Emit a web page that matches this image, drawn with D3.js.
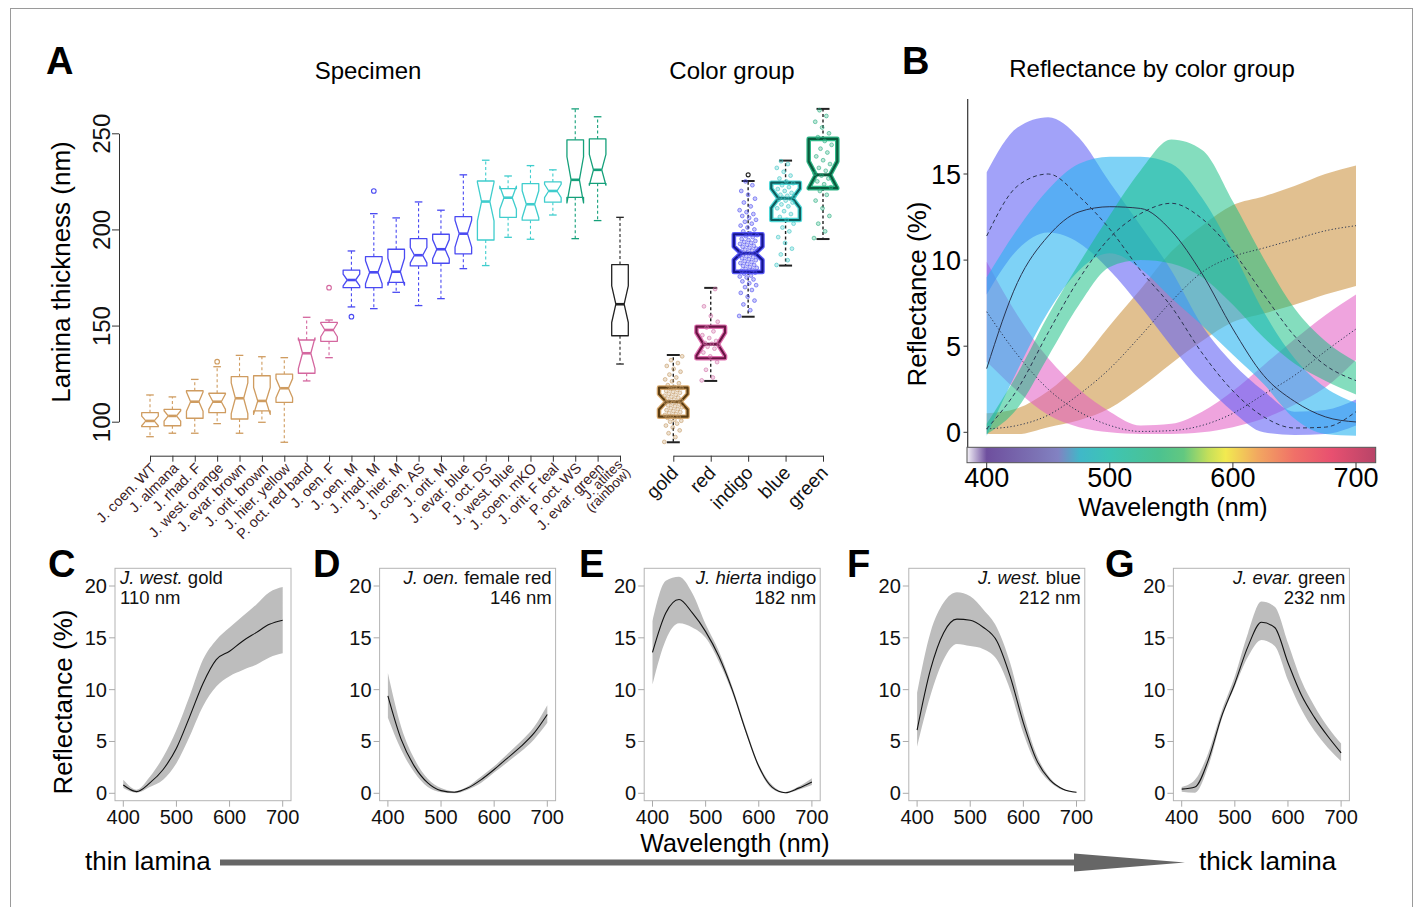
<!DOCTYPE html>
<html>
<head>
<meta charset="utf-8">
<title>Lamina thickness and reflectance</title>
<script src="https://d3js.org/d3.v7.min.js"></script>
<style>
  body { margin: 0; background: #fff; }
  svg { font-family: "Liberation Sans", Arial, Helvetica, sans-serif; }
</style>
</head>
<body>
<svg id="fig" width="1415" height="907"></svg>
<script>
// ---------- panel A data (lamina thickness, nm) ----------
var specimens = ["J. coen. WT", "J. almana", "J. rhad. F", "J. west. orange", "J. evar. brown",
  "J. orit. brown", "J. hier. yellow", "P. oct. red band", "J. oen. F", "J. oen. M", "J. rhad. M",
  "J. hier. M", "J. coen. AS", "J. orit. M", "J. evar. blue", "P. oct. DS", "J. west. blue",
  "J. coen. mKO", "J. orit. F teal", "P. oct. WS", "J. evar. green", "J. atlites|(rainbow)"];
var specGroup = ["gold","gold","gold","gold","gold","gold","gold","red","red",
  "indigo","indigo","indigo","indigo","indigo","indigo","blue","blue","blue","blue",
  "green","green","rainbow"];
var specHigh  = [113.9, 112.9, 122, 128.6, 134.5, 133.8, 133.3, 154.3, 152.9, 188.8, 208.2, 206, 214.3, 210, 228.4, 236, 227.8, 233.2, 231, 262.7, 258.6, 206.3];
var specQ3    = [104.7, 106.4, 116.1, 114.8, 123.4, 123.9, 124.7, 142.5, 151.7, 178.8, 185.9, 189.7, 195.2, 197.5, 206.7, 225.2, 221.2, 223.8, 224.7, 246.6, 247.1, 181.7];
var specMed   = [100.4, 103, 110.4, 110.4, 112.2, 110.8, 117.4, 135.6, 147.7, 173.7, 177.7, 178, 186.6, 189.7, 197.8, 214.5, 216.5, 213.1, 220, 225.8, 231, 161.1];
var specQ1    = [97.4, 97.9, 101.8, 104.7, 101.4, 105.6, 110.1, 125.2, 141.8, 169.7, 169.7, 172.5, 181, 182.4, 187.3, 194.5, 206.3, 204.8, 214.2, 216.7, 224, 144.7];
var specLow   = [92.2, 94, 94, 99, 94, 99.7, 89.3, 121.2, 133.3, 159.7, 158.8, 167.3, 160.4, 164, 179.6, 181.2, 195.9, 194.9, 207.5, 195.2, 204.6, 130];
var specNotch = [2.5, 2.7, 5, 4, 8, 7, 5, 8, 3.5, 3, 6, 7, 4, 5, 7, 10, 6, 7, 3.5, 12, 8, 9.5];
var specOutliers = [[3, 131.2], [8, 169.7], [9, 154.6], [10, 220]];

var groups     = ["gold", "red", "indigo", "blue", "green"];
var groupHigh  = [134.7, 169.6, 225.2, 235.8, 262.7];
var groupQ3    = [117.7, 149.4, 197.5, 224.3, 247.1];
var groupMed   = [110.4, 140.3, 187.6, 216.2, 228.4];
var groupQ1    = [102.6, 133, 177.9, 204.9, 221.5];
var groupLow   = [89.3, 121.2, 154.6, 181.2, 195];
var groupNotch = [4, 6, 3.5, 5, 7];
var groupOutliers = [[2, 228.4]];

var goldPts = [89.5, 92, 94, 95.5, 97, 98, 99, 100, 100.5, 101, 102, 102.5, 103, 103.5, 104, 104.5, 105, 105.5, 106, 106.5, 107, 107.5, 108, 108.5, 109, 109.5, 110, 110.2, 110.5, 111, 111.5, 112, 112.5, 113, 113.5, 114, 114.5, 115, 115.5, 116, 116.5, 117, 117.5, 118, 119, 120, 121, 122, 123, 124.5, 126, 127.5, 129, 130.5, 132, 134];
var redPts = [121.5, 123, 127, 131, 134, 136, 138, 139, 140, 140.5, 141, 142, 143.5, 145, 147, 149, 152, 155, 160, 169];
var indigoPts = [155, 158, 161, 163, 165, 167, 168.5, 170, 171, 172, 173, 174, 175, 175.5, 176, 177, 177.5, 178, 178.5, 179, 179.5, 180, 180.5, 181, 181.5, 182, 182.5, 183, 183.5, 184, 184.5, 185, 185.5, 186, 186.5, 187, 187.3, 187.6, 188, 188.5, 189, 189.5, 190, 190.5, 191, 191.5, 192, 192.5, 193, 193.5, 194, 194.5, 195, 196, 196.5, 197, 198, 199, 200, 201, 202, 203, 204, 205, 206, 207, 208, 209, 210, 212, 214, 216, 218, 220, 223, 225];
var bluePts = [181.5, 184, 187, 190, 193, 196, 199, 201, 203, 205, 206.5, 208, 209.5, 211, 212, 213, 214, 215, 215.5, 216, 216.5, 217, 217.5, 218, 219, 220, 221, 222, 223, 224, 225, 226.5, 228, 230, 232, 234, 235.5];
var greenPts = [195.5, 199, 203, 207, 211, 215, 218, 220, 222, 223.5, 225, 226.5, 228, 229, 230.5, 232, 234, 236, 238, 240, 242, 244, 246, 248, 250, 253, 256, 259, 262];

var thickTicks = [100, 150, 200, 250];

// ---------- panel B data (reflectance %, by wavelength) ----------
var wl = [400, 425, 450, 475, 500, 525, 550, 575, 600, 625, 650, 675, 700];
var goldHigh   = [1.1, 1.4, 2.4, 4.0, 6.2, 8.3, 10.5, 12.0, 13.2, 13.7, 14.3, 15.0, 15.5];
var goldMean   = [0.2, 0.4, 1.0, 2.2, 3.7, 5.6, 7.6, 9.3, 10.2, 10.7, 11.2, 11.7, 12.0];
var goldLow    = [-0.1, -0.1, 0.3, 0.7, 1.4, 2.6, 4.0, 5.3, 6.4, 6.9, 7.4, 8.0, 8.5];
var redHigh    = [9.9, 6.8, 4.3, 2.5, 1.2, 0.4, 0.5, 1.2, 2.4, 3.9, 5.4, 6.8, 8.0];
var redMean    = [7.0, 4.5, 2.5, 1.2, 0.4, 0.05, 0.1, 0.4, 1.1, 2.2, 3.3, 4.7, 6.0];
var redLow     = [4.1, 2.4, 1.0, 0.3, 0.0, -0.1, -0.1, 0.0, 0.3, 0.8, 1.6, 2.6, 4.2];
var indigoHigh = [15.1, 17.7, 18.3, 17.1, 14.5, 12.0, 9.4, 6.2, 4.0, 2.4, 1.2, 1.3, 1.9];
var indigoMean = [11.4, 14.3, 15.0, 13.7, 11.8, 9.4, 7.3, 4.6, 2.4, 0.9, 0.25, 0.3, 1.2];
var indigoLow  = [8.0, 10.6, 11.6, 11.0, 9.4, 7.3, 5.0, 2.9, 1.2, 0.0, -0.15, -0.1, 0.4];
var blueHigh   = [9.0, 11.8, 14.1, 15.6, 16.0, 16.0, 15.6, 13.6, 10.5, 7.0, 4.3, 2.6, 1.7];
var blueMean   = [3.7, 8.7, 11.4, 12.8, 13.1, 13.0, 11.7, 9.2, 6.0, 3.3, 1.8, 0.9, 0.6];
var blueLow    = [-0.2, 3.6, 7.0, 9.4, 10.4, 9.5, 7.8, 6.2, 4.5, 2.8, 0.8, -0.1, -0.2];
var greenHigh  = [0.5, 3.4, 6.8, 9.8, 12.6, 15.2, 17.0, 16.4, 13.4, 10.1, 7.2, 5.3, 4.1];
var greenMean  = [0.2, 2.5, 5.8, 8.9, 11.3, 12.7, 13.3, 12.4, 10.5, 8.0, 5.6, 3.9, 3.0];
var greenLow   = [-0.1, 1.4, 4.4, 7.4, 9.6, 10.0, 9.8, 9.0, 7.4, 5.5, 4.0, 3.0, 2.2];
var reflTicksB = [0, 5, 10, 15];
var wlTicks = [400, 500, 600, 700];
var spectrumStops = [[384, "#f3f1f7"], [400, "#6e4f9e"], [440, "#7c72b4"], [458, "#8282c2"], [476, "#40b8c8"],
  [500, "#3ec4b4"], [540, "#4cc290"], [560, "#62c880"], [580, "#c4df5a"], [594, "#f2ea50"],
  [620, "#f2a860"], [650, "#f07068"], [680, "#e85070"], [716, "#b84468"]];

// ---------- panels C-G data ----------
var cMean = [0.8, 0.16, 1.0, 2.3, 4.35, 7.4, 10.6, 12.9, 13.7, 14.7, 15.5, 16.3, 16.7];
var cHigh = [1.3, 0.35, 1.6, 3.5, 6.1, 9.4, 12.9, 14.8, 16.0, 17.1, 18.2, 19.4, 19.9];
var cLow  = [0.5, 0.05, 0.6, 1.3, 2.9, 5.5, 8.4, 10.3, 11.3, 11.9, 12.4, 13.1, 13.5];
var dMean = [9.4, 5.2, 2.6, 1.0, 0.26, 0.1, 0.5, 1.3, 2.3, 3.4, 4.5, 5.8, 7.6];
var dHigh = [11.6, 6.4, 3.3, 1.4, 0.5, 0.2, 0.65, 1.6, 2.6, 3.8, 5.0, 6.4, 8.5];
var dLow  = [7.3, 4.2, 2.0, 0.6, 0.1, 0.0, 0.35, 1.0, 2.0, 3.0, 4.0, 5.2, 6.8];
var eMean = [13.6, 17.4, 18.7, 17.4, 15.6, 13.2, 10.0, 6.1, 2.6, 0.6, 0.06, 0.5, 1.1];
var eHigh = [16.6, 20.5, 20.9, 19.3, 16.3, 13.7, 10.3, 6.4, 2.8, 0.8, 0.13, 0.65, 1.45];
var eLow  = [10.5, 14.8, 16.4, 16.0, 15.0, 12.7, 9.7, 5.9, 2.4, 0.45, 0.0, 0.35, 0.8];
var fMean = [6.1, 11.9, 15.5, 16.8, 16.7, 16.0, 14.7, 11.3, 6.8, 3.2, 1.3, 0.4, 0.1];
var fHigh = [9.7, 15.5, 18.4, 19.4, 19.0, 17.7, 16.0, 12.6, 7.7, 3.7, 1.5, 0.45, 0.1];
var fLow  = [4.5, 9.4, 12.9, 14.4, 14.2, 13.9, 12.9, 10.0, 5.8, 2.7, 1.1, 0.3, 0.06];
var gMean = [0.4, 0.6, 3.2, 7.4, 10.6, 14.2, 16.5, 16.0, 12.6, 9.5, 7.3, 5.5, 3.9];
var gHigh = [0.6, 1.3, 3.9, 7.9, 11.3, 15.5, 18.5, 18.0, 14.5, 10.9, 8.4, 6.4, 4.8];
var gLow  = [0.16, 0.06, 2.6, 7.1, 10.3, 13.2, 14.8, 14.2, 10.9, 8.1, 6.0, 4.4, 3.1];
var cgSpecies = ["J. west.", "J. oen.", "J. hierta", "J. west.", "J. evar."];
var cgColorName = ["gold", "female red", "indigo", "blue", "green"];
var cgThickness = [110, 146, 182, 212, 232];
var reflTicksCG = [0, 5, 10, 15, 20];

// ---------- styles ----------
var specColor = { gold: "#cf9c60", red: "#d4679f", indigo: "#4a4af2", blue: "#3fcdcd", green: "#15a07a", rainbow: "#222" };
var groupDark = { gold: "#5a3c12", red: "#6a1444", indigo: "#14148c", blue: "#0e5c5c", green: "#0a5a3c" };
var groupHalo = { gold: "#d8aa70", red: "#e070b0", indigo: "#5a5af8", blue: "#50d8d8", green: "#30b888" };
var ptColor = { gold: "#c49a66", red: "#d070a8", indigo: "#4d4df0", blue: "#3cc6c6", green: "#2aae80" };

var svg = d3.select("#fig");

svg.append("rect").attr("x", 10.5).attr("y", 8.5).attr("width", 1402).attr("height", 910)
  .attr("fill", "none").attr("stroke", "#9a9a9a");

function panelLetter(t, x, y) {
  svg.append("text").attr("x", x).attr("y", y).text(t)
    .attr("font-size", 38).attr("font-weight", "bold").attr("fill", "#000");
}

// ================= PANEL A =================
var yA = d3.scaleLinear().domain([100, 250]).range([421.7, 133.3]);
var xSpec = d3.scalePoint().domain(specimens).range([150, 620]);
var xGroup = d3.scalePoint().domain(groups).range([673.3, 823]);

panelLetter("A", 46, 74);
svg.append("text").attr("x", 368).attr("y", 79).attr("text-anchor", "middle")
  .attr("font-size", 24).text("Specimen");
svg.append("text").attr("x", 732).attr("y", 79).attr("text-anchor", "middle")
  .attr("font-size", 24).text("Color group");

var axA = svg.append("g").attr("transform", "translate(119,0)")
  .call(d3.axisLeft(yA).tickValues(thickTicks).tickSize(7).tickSizeOuter(0))
  .attr("font-size", 24).attr("font-family", null);
axA.select(".domain").attr("stroke", "#333");
axA.selectAll(".tick line").attr("stroke", "#333");
axA.selectAll(".tick text").attr("x", null).attr("dy", null)
  .attr("transform", "translate(-9,0) rotate(-90)").attr("text-anchor", "middle").attr("fill", "#111");

svg.append("text").attr("transform", "translate(70,272) rotate(-90)")
  .attr("text-anchor", "middle").attr("font-size", 26).text("Lamina thickness (nm)");

function boxPath(cx, hw, q1, q3, med, notch, y) {
  var a = y(q3), b = y(med + notch), m = y(med), c = y(med - notch), d = y(q1), iw = hw * 0.5;
  return "M" + (cx - hw) + "," + a + "L" + (cx - hw) + "," + b + "L" + (cx - iw) + "," + m +
    "L" + (cx - hw) + "," + c + "L" + (cx - hw) + "," + d + "L" + (cx + hw) + "," + d +
    "L" + (cx + hw) + "," + c + "L" + (cx + iw) + "," + m + "L" + (cx + hw) + "," + b +
    "L" + (cx + hw) + "," + a + "Z";
}

function whiskers(g, cx, capW, q1, q3, lo, hi, color, width, capWidth) {
  g.append("line").attr("x1", cx).attr("x2", cx).attr("y1", yA(q3)).attr("y2", yA(hi))
    .attr("stroke", color).attr("stroke-width", width).attr("stroke-dasharray", "3,2.5");
  g.append("line").attr("x1", cx).attr("x2", cx).attr("y1", yA(q1)).attr("y2", yA(lo))
    .attr("stroke", color).attr("stroke-width", width).attr("stroke-dasharray", "3,2.5");
  [hi, lo].forEach(function(v) {
    g.append("line").attr("x1", cx - capW).attr("x2", cx + capW).attr("y1", yA(v)).attr("y2", yA(v))
      .attr("stroke", color).attr("stroke-width", capWidth);
  });
}

// specimen boxes
var gSpec = svg.append("g");
specimens.forEach(function(s, i) {
  var cx = xSpec(s), col = specColor[specGroup[i]], hw = 8.3;
  whiskers(gSpec, cx, 3.8, specQ1[i], specQ3[i], specLow[i], specHigh[i], col, 1.1, 1.3);
  gSpec.append("path").attr("d", boxPath(cx, hw, specQ1[i], specQ3[i], specMed[i], specNotch[i], yA))
    .attr("fill", "#fff").attr("stroke", col).attr("stroke-width", 1.3).attr("stroke-linejoin", "round");
  gSpec.append("line").attr("x1", cx - hw * 0.5).attr("x2", cx + hw * 0.5)
    .attr("y1", yA(specMed[i])).attr("y2", yA(specMed[i])).attr("stroke", col).attr("stroke-width", 2.6);
});
specOutliers.forEach(function(o) {
  gSpec.append("circle").attr("cx", xSpec(specimens[o[0]])).attr("cy", yA(o[1])).attr("r", 2.3)
    .attr("fill", "none").attr("stroke", specColor[specGroup[o[0]]]).attr("stroke-width", 1.1);
});

var axS = svg.append("g").attr("transform", "translate(0,455.7)")
  .call(d3.axisBottom(xSpec).tickSize(6).tickSizeOuter(0).tickFormat(""));
axS.selectAll("path,line").attr("stroke", "#333");
specimens.forEach(function(s) {
  var parts = s.split("|");
  var t = svg.append("text").attr("transform", "translate(" + (xSpec(s) + 7) + ",469) rotate(-45)")
    .attr("text-anchor", "end").attr("font-size", parts.length > 1 ? 13.5 : 14.5).attr("fill", "#3a2024");
  if (parts.length > 1) {
    t.append("tspan").attr("x", 0).attr("dy", "-0.4em").text(parts[0]);
    t.append("tspan").attr("x", 0).attr("dy", "0.85em").text(parts[1]);
  } else {
    t.text(s);
  }
});

// color group boxes
var gGrp = svg.append("g");
var groupPts = { gold: goldPts, red: redPts, indigo: indigoPts, blue: bluePts, green: greenPts };
groups.forEach(function(gname, i) {
  var cx = xGroup(gname), hw = 14.3;
  whiskers(gGrp, cx, 6.5, groupQ1[i], groupQ3[i], groupLow[i], groupHigh[i], "#222", 1.4, 2);
  var d = boxPath(cx, hw, groupQ1[i], groupQ3[i], groupMed[i], groupNotch[i], yA);
  gGrp.append("path").attr("d", d).attr("fill", "none").attr("stroke", groupHalo[gname])
    .attr("stroke-width", 4.6).attr("stroke-linejoin", "round");
  gGrp.append("path").attr("d", d).attr("fill", "none").attr("stroke", groupDark[gname])
    .attr("stroke-width", 2.2).attr("stroke-linejoin", "round");
  gGrp.append("line").attr("x1", cx - hw * 0.5).attr("x2", cx + hw * 0.5)
    .attr("y1", yA(groupMed[i])).attr("y2", yA(groupMed[i]))
    .attr("stroke", groupDark[gname]).attr("stroke-width", 3);
  groupPts[gname].forEach(function(v, j) {
    var off = (((j * 0.618034) % 1) - 0.5) * 18;
    gGrp.append("circle").attr("cx", cx + off).attr("cy", yA(v)).attr("r", 1.9)
      .attr("fill", ptColor[gname]).attr("fill-opacity", 0.3)
      .attr("stroke", ptColor[gname]).attr("stroke-opacity", 0.85).attr("stroke-width", 0.7);
  });
});
groupOutliers.forEach(function(o) {
  gGrp.append("circle").attr("cx", xGroup(groups[o[0]])).attr("cy", yA(o[1])).attr("r", 2)
    .attr("fill", "none").attr("stroke", "#222").attr("stroke-width", 1.1);
});

var axG = svg.append("g").attr("transform", "translate(0,455.7)")
  .call(d3.axisBottom(xGroup).tickSize(6).tickSizeOuter(0).tickFormat(""));
axG.selectAll("path,line").attr("stroke", "#333");
groups.forEach(function(gname) {
  svg.append("text").attr("transform", "translate(" + (xGroup(gname) + 6) + ",474) rotate(-46)")
    .attr("text-anchor", "end").attr("font-size", 19).attr("fill", "#111").text(gname);
});

// ================= PANEL B =================
var xB = d3.scaleLinear().domain([400, 700]).range([986.7, 1356]);
var yB = d3.scaleLinear().domain([0, 15]).range([432.3, 174]);

panelLetter("B", 902, 74);
svg.append("text").attr("x", 1152).attr("y", 77).attr("text-anchor", "middle")
  .attr("font-size", 24).text("Reflectance by color group");

var bands = [
  { hi: goldHigh, mean: goldMean, lo: goldLow, fill: "rgba(205,150,70,0.6)", dash: "1.2,2.2" },
  { hi: redHigh, mean: redMean, lo: redLow, fill: "rgba(225,90,195,0.55)", dash: "1.2,2.2" },
  { hi: indigoHigh, mean: indigoMean, lo: indigoLow, fill: "rgba(100,100,245,0.6)", dash: "4,3" },
  { hi: blueHigh, mean: blueMean, lo: blueLow, fill: "rgba(40,180,240,0.6)", dash: null },
  { hi: greenHigh, mean: greenMean, lo: greenLow, fill: "rgba(20,190,130,0.52)", dash: "4,3" }
];
var areaB = d3.area().curve(d3.curveMonotoneX)
  .x(function(d) { return xB(d.w); }).y0(function(d) { return yB(d.lo); }).y1(function(d) { return yB(d.hi); });
var lineB = d3.line().curve(d3.curveMonotoneX)
  .x(function(d) { return xB(d.w); }).y(function(d) { return yB(d.m); });
var gB = svg.append("g");
bands.forEach(function(b) {
  var rows = wl.map(function(w, i) { return { w: w, lo: b.lo[i], hi: b.hi[i], m: b.mean[i] }; });
  gB.append("path").datum(rows).attr("d", areaB).attr("fill", b.fill);
});
bands.forEach(function(b) {
  var rows = wl.map(function(w, i) { return { w: w, m: b.mean[i] }; });
  gB.append("path").datum(rows).attr("d", lineB).attr("fill", "none")
    .attr("stroke", "#2a3550").attr("stroke-width", 1).attr("stroke-dasharray", b.dash);
});

// y axis B
svg.append("line").attr("x1", 967.7).attr("x2", 967.7).attr("y1", 99).attr("y2", 447)
  .attr("stroke", "#333").attr("stroke-width", 1.2);
reflTicksB.forEach(function(v) {
  svg.append("line").attr("x1", 963.5).attr("x2", 967.7).attr("y1", yB(v)).attr("y2", yB(v)).attr("stroke", "#333");
  svg.append("text").attr("x", 961).attr("y", yB(v) + 9.5).attr("text-anchor", "end")
    .attr("font-size", 27).text(v);
});
svg.append("text").attr("transform", "translate(926,294) rotate(-90)").attr("text-anchor", "middle")
  .attr("font-size", 26).text("Reflectance (%)");

// spectrum bar
var grad = svg.append("defs").append("linearGradient").attr("id", "spec")
  .attr("x1", "0%").attr("x2", "100%").attr("y1", "0%").attr("y2", "0%");
var w0 = spectrumStops[0][0], w1 = spectrumStops[spectrumStops.length - 1][0];
spectrumStops.forEach(function(s) {
  grad.append("stop").attr("offset", ((s[0] - w0) / (w1 - w0) * 100) + "%").attr("stop-color", s[1]);
});
svg.append("rect").attr("x", xB(w0)).attr("y", 447.3).attr("width", xB(w1) - xB(w0)).attr("height", 15.4)
  .attr("fill", "url(#spec)").attr("stroke", "#555").attr("stroke-width", 1);
wlTicks.forEach(function(w) {
  svg.append("line").attr("x1", xB(w)).attr("x2", xB(w)).attr("y1", 462.7).attr("y2", 468).attr("stroke", "#333");
  svg.append("text").attr("x", xB(w)).attr("y", 487).attr("text-anchor", "middle")
    .attr("font-size", 27).text(w);
});
svg.append("text").attr("x", 1173).attr("y", 516).attr("text-anchor", "middle")
  .attr("font-size", 25).text("Wavelength (nm)");

// ================= PANELS C-G =================
var cgData = [
  { mean: cMean, hi: cHigh, lo: cLow, letter: "C" },
  { mean: dMean, hi: dHigh, lo: dLow, letter: "D" },
  { mean: eMean, hi: eHigh, lo: eLow, letter: "E" },
  { mean: fMean, hi: fHigh, lo: fLow, letter: "F" },
  { mean: gMean, hi: gHigh, lo: gLow, letter: "G" }
];
var letterX = [48, 313, 579, 847, 1105];
cgData.forEach(function(p, k) {
  var left = 115 + k * 264.6, top = 568.3, w = 176, h = 232.4;
  var x = d3.scaleLinear().domain([400, 700]).range([left + 8.3, left + 167.7]);
  var y = d3.scaleLinear().domain([0, 20]).range([793.3, 586]);
  var g = svg.append("g");
  panelLetter(p.letter, letterX[k], 577);
  var rows = wl.map(function(wv, i) { return { w: wv, lo: p.lo[i], hi: p.hi[i], m: p.mean[i] }; });
  g.append("path").datum(rows).attr("fill", "#bdbdbd")
    .attr("d", d3.area().curve(d3.curveMonotoneX).x(function(d) { return x(d.w); })
      .y0(function(d) { return y(d.lo); }).y1(function(d) { return y(d.hi); }));
  g.append("path").datum(rows).attr("fill", "none").attr("stroke", "#111").attr("stroke-width", 1.1)
    .attr("d", d3.line().curve(d3.curveMonotoneX).x(function(d) { return x(d.w); }).y(function(d) { return y(d.m); }));
  g.append("rect").attr("x", left).attr("y", top).attr("width", w).attr("height", h)
    .attr("fill", "none").attr("stroke", "#b4b4b4").attr("stroke-width", 1);
  reflTicksCG.forEach(function(v) {
    g.append("line").attr("x1", left - 6).attr("x2", left).attr("y1", y(v)).attr("y2", y(v)).attr("stroke", "#aaa");
    g.append("text").attr("x", left - 8).attr("y", y(v) + 7).attr("text-anchor", "end")
      .attr("font-size", 20).attr("fill", "#111").text(v);
  });
  wlTicks.forEach(function(wv) {
    g.append("line").attr("x1", x(wv)).attr("x2", x(wv)).attr("y1", top + h).attr("y2", top + h + 6).attr("stroke", "#aaa");
    g.append("text").attr("x", x(wv)).attr("y", 824).attr("text-anchor", "middle")
      .attr("font-size", 20).attr("fill", "#111").text(wv);
  });
  var anchorLeft = k === 0;
  var tx = anchorLeft ? left + 5 : left + 172;
  var t1 = g.append("text").attr("x", tx).attr("y", 584).attr("font-size", 18.5)
    .attr("text-anchor", anchorLeft ? "start" : "end").attr("fill", "#111");
  t1.append("tspan").attr("font-style", "italic").text(cgSpecies[k]);
  t1.append("tspan").text(" " + cgColorName[k]);
  g.append("text").attr("x", tx).attr("y", 604).attr("font-size", 18.5).attr("fill", "#111")
    .attr("text-anchor", anchorLeft ? "start" : "end").text(cgThickness[k] + " nm");
});

svg.append("text").attr("transform", "translate(72,702) rotate(-90)").attr("text-anchor", "middle")
  .attr("font-size", 26).text("Reflectance (%)");
svg.append("text").attr("x", 735).attr("y", 852).attr("text-anchor", "middle")
  .attr("font-size", 25).text("Wavelength (nm)");

// thickness arrow
svg.append("text").attr("x", 85).attr("y", 870).attr("font-size", 26).text("thin lamina");
svg.append("text").attr("x", 1199).attr("y", 870).attr("font-size", 26).text("thick lamina");
svg.append("line").attr("x1", 220).attr("x2", 1080).attr("y1", 862.5).attr("y2", 862.5)
  .attr("stroke", "#666").attr("stroke-width", 6);
svg.append("path").attr("d", "M1074,853.5L1185,862.5L1074,871.5Z").attr("fill", "#666");
</script>
</body>
</html>
